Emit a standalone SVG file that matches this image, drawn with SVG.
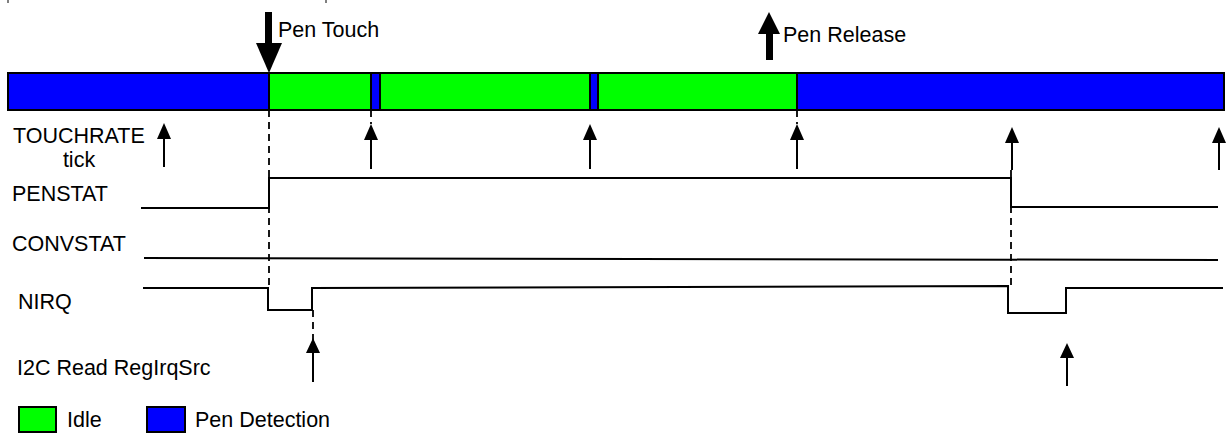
<svg xmlns="http://www.w3.org/2000/svg" width="1229" height="433" viewBox="0 0 1229 433">
<style>
text{font-family:"Liberation Sans",Arial,sans-serif;font-size:21.5px;fill:#000}
.g{fill:#00ff00;stroke:#000;stroke-width:2}
.b{fill:#0000ff;stroke:#000;stroke-width:2}
.sig{fill:none;stroke:#000;stroke-width:2}
.dash{fill:none;stroke:#000;stroke-width:1.8;stroke-dasharray:7,5}
.tick{fill:none;stroke:#000;stroke-width:2}
.ah{fill:#000}
</style>
<rect width="1229" height="433" fill="#fff"/>
<g id="top-marks">
<line x1="8" y1="0" x2="8" y2="3" stroke="#000" stroke-width="1"/>
<line x1="326" y1="0" x2="326" y2="3" stroke="#000" stroke-width="1"/>
</g>
<g id="state-bar">
<rect class="b" x="8" y="73" width="261" height="37"/>
<rect class="g" x="269" y="73" width="102" height="37"/>
<rect class="b" x="371" y="73" width="9" height="37"/>
<rect class="g" x="380" y="73" width="210" height="37"/>
<rect class="b" x="590" y="73" width="8" height="37"/>
<rect class="g" x="598" y="73" width="199" height="37"/>
<rect class="b" x="797" y="73" width="427" height="37"/>
</g>
<g id="pen-touch">
<rect x="265" y="12" width="7" height="32" fill="#000"/>
<polygon class="ah" points="256,43 282,43 269,73"/>
<text x="278" y="37">Pen Touch</text>
</g>
<g id="pen-release">
<rect x="766" y="32" width="7" height="28" fill="#000"/>
<polygon class="ah" points="758,34 780,34 769,12"/>
<text x="783" y="42">Pen Release</text>
</g>
<g id="labels">
<text x="13" y="143">TOUCHRATE</text>
<text x="79" y="167" text-anchor="middle">tick</text>
<text x="12" y="201">PENSTAT</text>
<text x="12" y="251">CONVSTAT</text>
<text x="18" y="309">NIRQ</text>
<text x="17" y="375">I2C Read RegIrqSrc</text>
</g>
<g id="tick-arrows">
<line class="tick" x1="164" y1="167" x2="164" y2="137"/>
<polygon class="ah" points="157,139 171,139 164,123"/>
<line class="tick" x1="371" y1="169" x2="371" y2="137"/>
<polygon class="ah" points="364,140 378,140 371,124"/>
<line class="tick" x1="590" y1="169" x2="590" y2="137"/>
<polygon class="ah" points="583,140 597,140 590,124"/>
<line class="tick" x1="797" y1="169" x2="797" y2="137"/>
<polygon class="ah" points="790,140 804,140 797,124"/>
<line class="tick" x1="1012" y1="170" x2="1012" y2="140"/>
<polygon class="ah" points="1005,143 1019,143 1012,127"/>
<line class="tick" x1="1219" y1="170" x2="1219" y2="140"/>
<polygon class="ah" points="1212,143 1226,143 1219,127"/>
</g>
<g id="i2c-arrows">
<line class="tick" x1="313" y1="382" x2="313" y2="350"/>
<polygon class="ah" points="306,353 320,353 313,338"/>
<line class="tick" x1="1067" y1="386" x2="1067" y2="355"/>
<polygon class="ah" points="1060,358 1074,358 1067,343"/>
</g>
<g id="signals">
<polyline class="sig" points="141,208 269,208 269,178 1011,178 1011,207 1218,207"/>
<polyline class="sig" points="144,258 1218,260"/>
<polyline class="sig" points="143,288 268,288 268,310 312,310 312,288 1008,286 1008,313 1066,313 1066,288 1223,288"/>
</g>
<g id="connectors">
<line class="dash" x1="269" y1="110" x2="269" y2="290"/>
<line class="dash" x1="371" y1="110" x2="371" y2="124"/>
<line class="dash" x1="797" y1="110" x2="797" y2="124"/>
<line class="dash" x1="1011" y1="170" x2="1011" y2="288"/>
<line class="dash" x1="313" y1="310" x2="313" y2="340"/>
</g>
<g id="legend">
<rect class="g" x="19" y="407" width="37" height="25"/>
<text x="67" y="427">Idle</text>
<rect class="b" x="147" y="407" width="38" height="25"/>
<text x="195" y="427">Pen Detection</text>
</g>
</svg>
